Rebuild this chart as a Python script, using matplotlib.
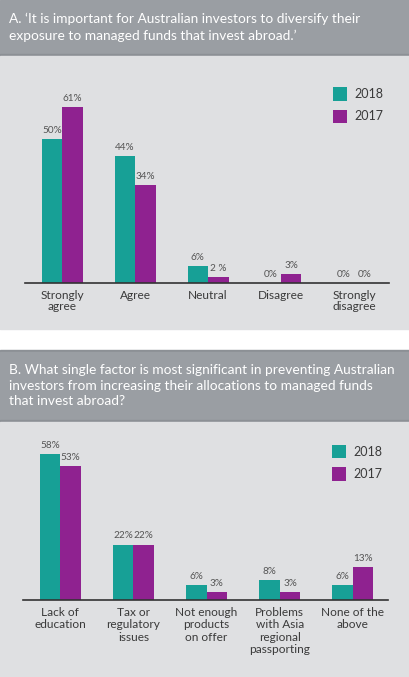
import matplotlib
matplotlib.use("Agg")
import matplotlib.pyplot as plt
from matplotlib.patches import Rectangle
import numpy as np

# ---------------------------------------------------------------
# Data
# ---------------------------------------------------------------
years = ["2018", "2017"]

cats_a = ["Strongly\nagree", "Agree", "Neutral", "Disagree", "Strongly\ndisagree"]
vals_a_2018 = [50, 44, 6, 0, 0]
vals_a_2017 = [61, 34, 2, 3, 0]
labels_a_2018 = ["50%", "44%", "6%", "0%", "0%"]
labels_a_2017 = ["61%", "34%", "2 %", "3%", "0%"]

cats_b = ["Lack of\neducation", "Tax or\nregulatory\nissues", "Not enough\nproducts\non offer",
          "Problems\nwith Asia\nregional\npassporting", "None of the\nabove"]
vals_b_2018 = [58, 22, 6, 8, 6]
vals_b_2017 = [53, 22, 3, 3, 13]

title_a = ("A. \u2018It is important for Australian investors to diversify their\n"
           "exposure to managed funds that invest abroad.\u2019")
title_b = ("B. What single factor is most significant in preventing Australian\n"
           "investors from increasing their allocations to managed funds\n"
           "that invest abroad?")

# ---------------------------------------------------------------
# Style
# ---------------------------------------------------------------
plt.rcParams['font.family'] = ['Lato', 'DejaVu Sans']
TEAL = '#17a096'
PURPLE = '#8f2290'
HEADER = '#9a9ea3'
PANEL = '#dfe0e2'
TEXT = '#3a3a3a'
VAL = '#555555'

W, H = 410, 677
fig = plt.figure(figsize=(W / 100, H / 100), dpi=100)
fig.patch.set_facecolor('white')


def px_rect(x0, y0, x1, y1, color):
    fig.patches.append(Rectangle((x0 / W, 1 - y1 / H), (x1 - x0) / W, (y1 - y0) / H,
                                 transform=fig.transFigure, color=color, zorder=-5))


def px_axes(x0, y0, x1, y1):
    return fig.add_axes([x0 / W, 1 - y1 / H, (x1 - x0) / W, (y1 - y0) / H], zorder=2)


# backgrounds
px_rect(0, 0, W, 54, HEADER)
px_rect(0, 54, W, 55.5, '#8c9095')
px_rect(0, 55.5, W, 329, PANEL)
px_rect(0, 350, W, 351.5, '#8c9095')
px_rect(0, 351.5, W, 420, HEADER)
px_rect(0, 420, W, 421.5, '#8c9095')
px_rect(0, 421.5, W, H, PANEL)

# headers
fig.text(9 / W, 1 - 13 / H, title_a, color='white', fontsize=9.9, va='top', ha='left',
         linespacing=1.45)
fig.text(9 / W, 1 - 364 / H, title_b, color='white', fontsize=9.9, va='top', ha='left',
         linespacing=1.35)


def draw_panel(ax, cats, v18, v17, l18, l17, ymax, ls_cat, legend_anchor):
    x = np.arange(len(cats))
    w = 0.28
    b1 = ax.bar(x - w / 2, v18, w, color=TEAL, label=years[0], zorder=2)
    b2 = ax.bar(x + w / 2, v17, w, color=PURPLE, label=years[1], zorder=2)
    for bars, labs in ((b1, l18), (b2, l17)):
        for rect, lab in zip(bars, labs):
            ax.annotate(lab, (rect.get_x() + rect.get_width() / 2, rect.get_height()),
                        xytext=(0, 3), textcoords='offset points', ha='center', va='bottom',
                        fontsize=7.2, color=VAL)
    ax.set_xlim(-0.51, len(cats) - 1 + 0.48)
    ax.set_ylim(0, ymax)
    ax.set_facecolor('none')
    for s in ('top', 'right', 'left'):
        ax.spines[s].set_visible(False)
    ax.spines['bottom'].set_color('#333333')
    ax.spines['bottom'].set_linewidth(1.2)
    ax.set_yticks([])
    ax.set_xticks(x)
    ax.set_xticklabels(cats, fontsize=8.6, color=TEXT, linespacing=ls_cat, va='top')
    ax.tick_params(axis='x', length=0, pad=5)
    ax.legend(loc='upper right', bbox_to_anchor=legend_anchor, frameon=False,
              fontsize=9, handlelength=1.12, handleheight=1.28, labelspacing=0.72,
              handletextpad=0.56, borderpad=0, borderaxespad=0, labelcolor=TEXT)


ax_a = px_axes(25, 70, 389, 283)
draw_panel(ax_a, cats_a, vals_a_2018, vals_a_2017, labels_a_2018, labels_a_2017,
           74, 1.0, (0.984, 0.92))

lab_b18 = [f"{v}%" for v in vals_b_2018]
lab_b17 = [f"{v}%" for v in vals_b_2017]
ax_b = px_axes(23, 440, 388, 600)
draw_panel(ax_b, cats_b, vals_b_2018, vals_b_2017, lab_b18, lab_b17,
           63.5, 1.15, (0.984, 0.97))

fig.savefig('out.png', dpi=100, facecolor='white')
